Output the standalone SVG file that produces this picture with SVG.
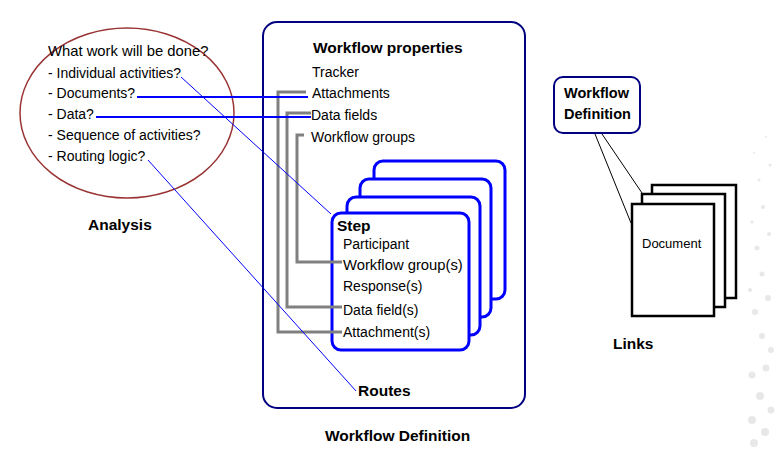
<svg xmlns="http://www.w3.org/2000/svg" width="775" height="449" viewBox="0 0 775 449">
<style>
text { font-family: "Liberation Sans", Arial, sans-serif; font-size: 14px; fill: #000; }
.b { font-weight: bold; font-size: 15.5px; }
.step { fill: #fff; stroke: #0000ff; stroke-width: 3; }
.gray { fill: none; stroke: #808080; stroke-width: 3; }
.blue { fill: none; stroke: #0000ff; stroke-width: 1; }
.blue2 { fill: none; stroke: #0000ff; stroke-width: 2; }
.doc { fill: #fff; stroke: #000; stroke-width: 2.5; }
.dot { fill: #e8e8e8; }
</style>
<rect width="775" height="449" fill="#fff"/>
<g id="dots">
<circle class="dot" cx="766" cy="137" r="1"/><circle class="dot" cx="754" cy="153" r="1"/>
<circle class="dot" cx="770" cy="165" r="1.5"/><circle class="dot" cx="759" cy="180" r="1.5"/>
<circle class="dot" cx="763" cy="207" r="2"/><circle class="dot" cx="752" cy="222" r="1.5"/>
<circle class="dot" cx="769" cy="234" r="2"/><circle class="dot" cx="757" cy="248" r="2.5"/>
<circle class="dot" cx="762" cy="274" r="2.5"/><circle class="dot" cx="750" cy="290" r="2"/>
<circle class="dot" cx="768" cy="298" r="3"/><circle class="dot" cx="755" cy="312" r="3"/>
<circle class="dot" cx="762" cy="336" r="3"/><circle class="dot" cx="771" cy="350" r="3"/>
<circle class="dot" cx="752" cy="375" r="3.5"/><circle class="dot" cx="766" cy="368" r="3.5"/>
<circle class="dot" cx="760" cy="396" r="4"/><circle class="dot" cx="771" cy="410" r="3.5"/>
<circle class="dot" cx="752" cy="420" r="4"/><circle class="dot" cx="765" cy="432" r="4"/>
<circle class="dot" cx="754" cy="443" r="4"/>
</g>
<g id="analysis">
<ellipse cx="127" cy="113" rx="107" ry="85" fill="none" stroke="#993333" stroke-width="1.5"/>
<text x="48" y="56" style="font-size:14.8px">What work will be done?</text>
<text x="48" y="78">- Individual activities?</text>
<text x="48" y="98">- Documents?</text>
<text x="48" y="119">- Data?</text>
<text x="48" y="140">- Sequence of activities?</text>
<text x="48" y="161">- Routing logic?</text>
<text class="b" x="88" y="230">Analysis</text>
</g>
<g id="workflow-definition">
<rect x="263" y="22" width="262" height="386" rx="14" fill="none" stroke="#000080" stroke-width="2"/>
<text class="b" x="313" y="53">Workflow properties</text>
<text x="312" y="77">Tracker</text>
<text x="312" y="98">Attachments</text>
<text x="311" y="120">Data fields</text>
<text x="311" y="142">Workflow groups</text>
<text class="b" x="358" y="396">Routes</text>
<text class="b" x="325" y="441">Workflow Definition</text>
</g>
<g id="steps">
<rect class="step" x="374" y="161" width="131" height="138" rx="9"/>
<rect class="step" x="360" y="179" width="131" height="138" rx="9"/>
<rect class="step" x="347" y="197" width="133" height="138" rx="9"/>
<rect class="step" x="332" y="213" width="137" height="137" rx="9"/>
<text class="b" x="337" y="231">Step</text>
<text x="343" y="249">Participant</text>
<text x="343" y="270" style="font-size:14.8px">Workflow group(s)</text>
<text x="343" y="291">Response(s)</text>
<text x="343" y="315">Data field(s)</text>
<text x="343" y="337">Attachment(s)</text>
</g>
<g id="connectors">
<polyline class="gray" points="306,92 278,92 278,332 342,332"/>
<polyline class="gray" points="311,113 287,113 287,307 342,307"/>
<polyline class="gray" points="304,135 297,135 297,262 342,262"/>
<line class="blue2" x1="137" y1="97" x2="308" y2="97"/>
<line class="blue2" x1="96" y1="117" x2="311" y2="117"/>
<line class="blue" x1="181" y1="77" x2="331" y2="214"/>
<line class="blue" x1="148" y1="160" x2="356" y2="391"/>
<line x1="595" y1="134" x2="631" y2="223" stroke="#000" stroke-width="1"/>
<line x1="602" y1="134" x2="642" y2="193" stroke="#000" stroke-width="1"/>
</g>
<g id="wf-def-small">
<rect x="554" y="77" width="86" height="56" rx="9" fill="#fff" stroke="#000080" stroke-width="2"/>
<text class="b" x="564" y="98" style="font-size:14.5px">Workflow</text>
<text class="b" x="564" y="119" style="font-size:14.5px">Definition</text>
</g>
<g id="documents">
<rect class="doc" x="652" y="185" width="84" height="113"/>
<rect class="doc" x="642" y="194" width="83" height="113"/>
<rect class="doc" x="632" y="204" width="82" height="112"/>
<text x="642" y="248" style="font-size:13px">Document</text>
<text class="b" x="613" y="349">Links</text>
</g>
</svg>
